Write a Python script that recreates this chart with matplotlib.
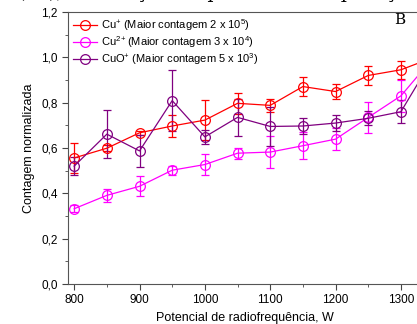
import matplotlib.pyplot as plt
from matplotlib.lines import Line2D
from matplotlib.ticker import MultipleLocator, FuncFormatter

plt.rcParams['font.family'] = ['Liberation Sans', 'DejaVu Sans']
plt.rcParams['mathtext.fontset'] = 'custom'
plt.rcParams['mathtext.rm'] = 'Liberation Sans'
plt.rcParams['mathtext.it'] = 'Liberation Sans:italic'

# potencia (W)
potencia = [800, 850, 900, 950, 1000, 1050, 1100, 1150, 1200, 1250, 1300, 1350]

# Cu+
cu1 = [0.556, 0.599, 0.667, 0.697, 0.723, 0.797, 0.788, 0.871, 0.849, 0.920, 0.945, 1.0]
cu1_err = [0.067, 0.012, 0.010, 0.047, 0.087, 0.047, 0.028, 0.043, 0.033, 0.040, 0.040, 0.04]

# Cu2+
cu2 = [0.332, 0.391, 0.431, 0.502, 0.527, 0.577, 0.582, 0.610, 0.639, 0.735, 0.830, 1.0]
cu2_err = [0.015, 0.030, 0.044, 0.020, 0.048, 0.025, 0.070, 0.060, 0.047, 0.070, 0.070, 0.05]

# CuO+
cuo = [0.520, 0.661, 0.587, 0.809, 0.649, 0.735, 0.695, 0.697, 0.710, 0.731, 0.760, 1.0]
cuo_err = [0.040, 0.105, 0.072, 0.133, 0.030, 0.080, 0.087, 0.035, 0.034, 0.030, 0.050, 0.05]

fig = plt.figure(figsize=(4.17, 3.24), dpi=100)
ax = fig.add_axes([0.163, 0.1235, 0.847, 0.8395])

series = [
    (cu1, cu1_err, '#ff0000', r'Cu$^{+}$ (Maior contagem 2 x 10$^{5}$)'),
    (cu2, cu2_err, '#ff00ff', r'Cu$^{2+}$(Maior contagem 3 x 10$^{4}$)'),
    (cuo, cuo_err, '#800080', r'CuO$^{+}$ (Maior contagem 5 x 10$^{3}$)'),
]
handles = []
for y, e, c, lab in series:
    ax.errorbar(potencia, y, yerr=e, color=c, marker='o', markersize=7,
                markerfacecolor='none', markeredgewidth=0.9, linewidth=0.9,
                capsize=3, elinewidth=0.9)
    handles.append(Line2D([], [], color=c, marker='o', markersize=7,
                          markerfacecolor='none', markeredgewidth=0.9,
                          linewidth=0.9, label=lab))

ax.set_xlim(790.5, 1331)
ax.set_ylim(0, 1.2)
ax.xaxis.set_major_locator(MultipleLocator(100))
ax.xaxis.set_minor_locator(MultipleLocator(50))
ax.yaxis.set_major_locator(MultipleLocator(0.2))
ax.yaxis.set_minor_locator(MultipleLocator(0.1))
ax.yaxis.set_major_formatter(FuncFormatter(lambda v, p: f'{v:.1f}'.replace('.', ',')))
ax.tick_params(which='both', direction='out', labelsize=8.5, color='#444444')
ax.tick_params(which='major', length=4)
ax.tick_params(which='minor', length=2.5)
ax.spines['right'].set_visible(False)
for s in ['left', 'bottom', 'top']:
    ax.spines[s].set_color('#555555')

ax.set_xlabel('Potencial de radiofrequência, W', fontsize=9, labelpad=4)
ax.set_ylabel('Contagem normalizada', fontsize=9)

ax.legend(handles=handles, loc='upper left', frameon=False, fontsize=8,
          handlelength=2.2, borderaxespad=0.05, labelspacing=0.12,
          handletextpad=0.3)

fig.text(0.958, 0.937, 'B', family='DejaVu Serif', fontsize=11, ha='center', va='center')
fig.text(0.0, 1.025, r'a (Ar), a variação da potência de operação do plasma',
         family='DejaVu Serif', fontsize=14, ha='left', va='center')

fig.savefig('out.png', dpi=100)
